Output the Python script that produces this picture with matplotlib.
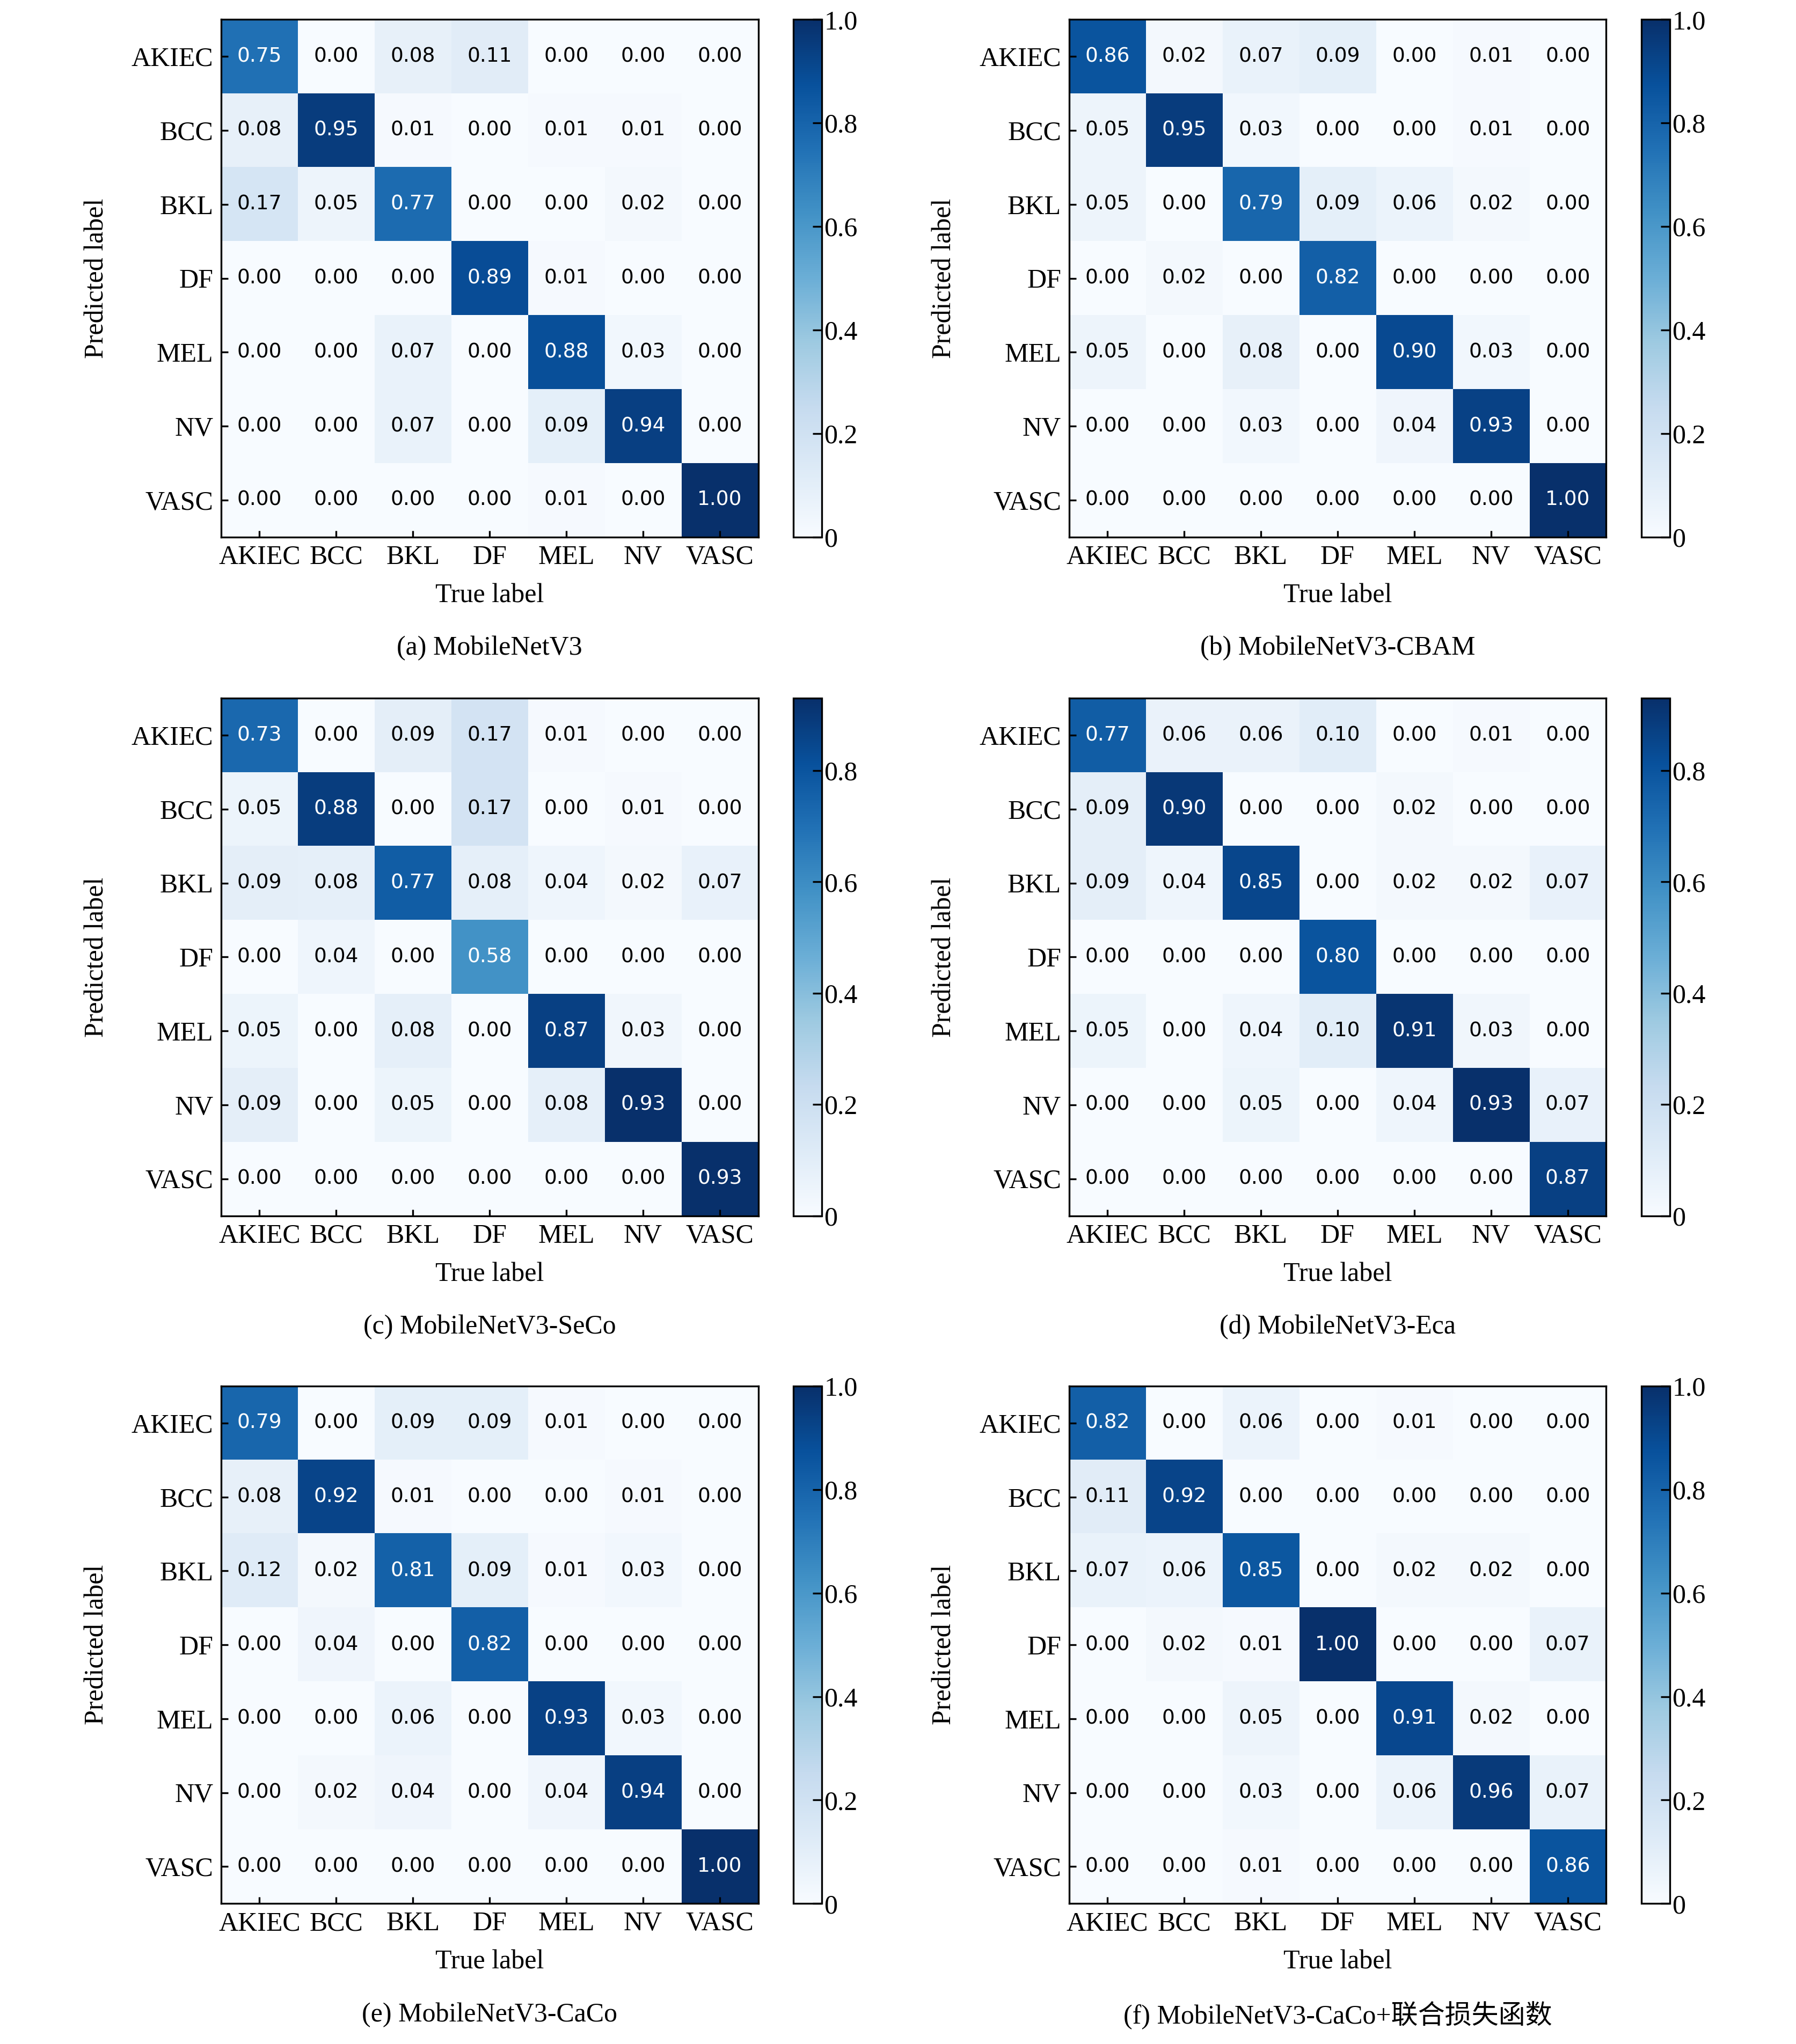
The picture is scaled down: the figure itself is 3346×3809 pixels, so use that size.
import numpy as np
import matplotlib.pyplot as plt

plt.rcParams['font.family'] = ['Liberation Serif', 'Noto Sans CJK SC']

LABELS = ["AKIEC", "BCC", "BKL", "DF", "MEL", "NV", "VASC"]

CM_A = [[0.75, 0.00, 0.08, 0.11, 0.00, 0.00, 0.00],
        [0.08, 0.95, 0.01, 0.00, 0.01, 0.01, 0.00],
        [0.17, 0.05, 0.77, 0.00, 0.00, 0.02, 0.00],
        [0.00, 0.00, 0.00, 0.89, 0.01, 0.00, 0.00],
        [0.00, 0.00, 0.07, 0.00, 0.88, 0.03, 0.00],
        [0.00, 0.00, 0.07, 0.00, 0.09, 0.94, 0.00],
        [0.00, 0.00, 0.00, 0.00, 0.01, 0.00, 1.00]]
CM_B = [[0.86, 0.02, 0.07, 0.09, 0.00, 0.01, 0.00],
        [0.05, 0.95, 0.03, 0.00, 0.00, 0.01, 0.00],
        [0.05, 0.00, 0.79, 0.09, 0.06, 0.02, 0.00],
        [0.00, 0.02, 0.00, 0.82, 0.00, 0.00, 0.00],
        [0.05, 0.00, 0.08, 0.00, 0.90, 0.03, 0.00],
        [0.00, 0.00, 0.03, 0.00, 0.04, 0.93, 0.00],
        [0.00, 0.00, 0.00, 0.00, 0.00, 0.00, 1.00]]
CM_C = [[0.73, 0.00, 0.09, 0.17, 0.01, 0.00, 0.00],
        [0.05, 0.88, 0.00, 0.17, 0.00, 0.01, 0.00],
        [0.09, 0.08, 0.77, 0.08, 0.04, 0.02, 0.07],
        [0.00, 0.04, 0.00, 0.58, 0.00, 0.00, 0.00],
        [0.05, 0.00, 0.08, 0.00, 0.87, 0.03, 0.00],
        [0.09, 0.00, 0.05, 0.00, 0.08, 0.93, 0.00],
        [0.00, 0.00, 0.00, 0.00, 0.00, 0.00, 0.93]]
CM_D = [[0.77, 0.06, 0.06, 0.10, 0.00, 0.01, 0.00],
        [0.09, 0.90, 0.00, 0.00, 0.02, 0.00, 0.00],
        [0.09, 0.04, 0.85, 0.00, 0.02, 0.02, 0.07],
        [0.00, 0.00, 0.00, 0.80, 0.00, 0.00, 0.00],
        [0.05, 0.00, 0.04, 0.10, 0.91, 0.03, 0.00],
        [0.00, 0.00, 0.05, 0.00, 0.04, 0.93, 0.07],
        [0.00, 0.00, 0.00, 0.00, 0.00, 0.00, 0.87]]
CM_E = [[0.79, 0.00, 0.09, 0.09, 0.01, 0.00, 0.00],
        [0.08, 0.92, 0.01, 0.00, 0.00, 0.01, 0.00],
        [0.12, 0.02, 0.81, 0.09, 0.01, 0.03, 0.00],
        [0.00, 0.04, 0.00, 0.82, 0.00, 0.00, 0.00],
        [0.00, 0.00, 0.06, 0.00, 0.93, 0.03, 0.00],
        [0.00, 0.02, 0.04, 0.00, 0.04, 0.94, 0.00],
        [0.00, 0.00, 0.00, 0.00, 0.00, 0.00, 1.00]]
CM_F = [[0.82, 0.00, 0.06, 0.00, 0.01, 0.00, 0.00],
        [0.11, 0.92, 0.00, 0.00, 0.00, 0.00, 0.00],
        [0.07, 0.06, 0.85, 0.00, 0.02, 0.02, 0.00],
        [0.00, 0.02, 0.01, 1.00, 0.00, 0.00, 0.07],
        [0.00, 0.00, 0.05, 0.00, 0.91, 0.02, 0.00],
        [0.00, 0.00, 0.03, 0.00, 0.06, 0.96, 0.07],
        [0.00, 0.00, 0.01, 0.00, 0.00, 0.00, 0.86]]

PANELS = [
    (CM_A, "(a) MobileNetV3"),
    (CM_B, "(b) MobileNetV3-CBAM"),
    (CM_C, "(c) MobileNetV3-SeCo"),
    (CM_D, "(d) MobileNetV3-Eca"),
    (CM_E, "(e) MobileNetV3-CaCo"),
    (CM_F, "(f) MobileNetV3-CaCo+联合损失函数"),
]

W, H = 1381.0, 1572.0   # layout units of the reference
fig = plt.figure(figsize=(3346 / 300, 3809 / 300), dpi=300)

col_x = [170, 822]
row_y = [15, 537, 1066]
hm_w, hm_h = 413, 398

for idx, (cm, title) in enumerate(PANELS):
    cm = np.array(cm)
    r, c = divmod(idx, 2)
    x0, y0 = col_x[c], row_y[r]
    ax = fig.add_axes([x0 / W, 1 - (y0 + hm_h) / H, hm_w / W, hm_h / H])
    cax = fig.add_axes([(x0 + 440) / W, 1 - (y0 + hm_h) / H, 22 / W, hm_h / H])
    vmax = cm.max()
    im = ax.imshow(cm, cmap="Blues", vmin=0, vmax=vmax, aspect="auto")
    for i in range(7):
        for j in range(7):
            v = cm[i, j]
            ax.text(j, i, f"{v:.2f}", ha="center", va="center",
                    fontsize=9, family="DejaVu Sans",
                    color="white" if v > vmax / 2 else "black")
    ax.set_xticks(range(7))
    ax.set_yticks(range(7))
    ax.set_xticklabels(LABELS, fontsize=12)
    ax.set_yticklabels(LABELS, fontsize=12)
    ax.tick_params(direction="in", length=3)
    ax.set_xlabel("True label", fontsize=12, labelpad=6)
    ax.set_ylabel("Predicted label", fontsize=12, labelpad=10)
    ax.text(0.5, -0.215, title, transform=ax.transAxes, ha="center",
            va="center", fontsize=12)

    cb = fig.colorbar(im, cax=cax)
    ticks = [0, 0.2, 0.4, 0.6, 0.8] + ([1.0] if vmax >= 0.995 else [])
    cb.set_ticks(ticks)
    cb.set_ticklabels(["0"] + [f"{t:.1f}" for t in ticks[1:]])
    cb.ax.tick_params(labelsize=12, direction="in", length=4, pad=1)
    cb.outline.set_linewidth(0.8)

fig.savefig("out.png", dpi=300)
